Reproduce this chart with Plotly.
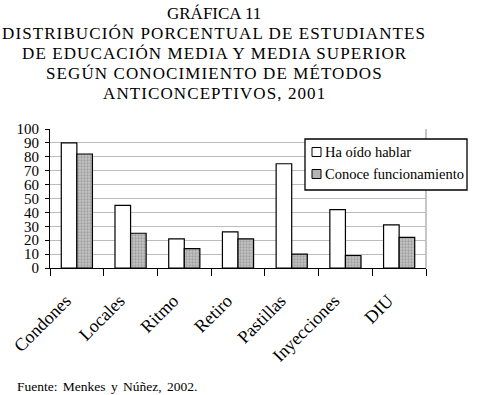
import plotly.graph_objects as go

categories = ["Condones", "Locales", "Ritmo", "Retiro", "Pastillas", "Inyecciones", "DIU"]
ha_oido = [90, 45, 21, 26, 75, 42, 31]
conoce = [82, 25, 14, 21, 10, 9, 22]
y_ticks = list(range(0, 101, 10))
series_names = ["Ha oído hablar", "Conoce funcionamiento"]
title_lines = [
    "GRÁFICA 11",
    "DISTRIBUCIÓN PORCENTUAL DE ESTUDIANTES",
    "DE EDUCACIÓN MEDIA Y MEDIA SUPERIOR",
    "SEGÚN CONOCIMIENTO DE MÉTODOS",
    "ANTICONCEPTIVOS, 2001",
]
source = "Fuente: Menkes y Núñez, 2002."

serif = "Liberation Serif"
GRAY_FILL = "#b4b4b4"

W, H = 478, 395
# plot area in pixels
pl, pr, pt, pb = 50, 426, 129, 268


def px(x):
    return (x - pl) / (pr - pl)


def py(y):
    return (pb - y) / (pb - pt)


fig = go.Figure()
fig.add_trace(go.Bar(
    x=categories, y=ha_oido, name=series_names[0],
    marker=dict(color="white", line=dict(color="black", width=1.2)),
))
fig.add_trace(go.Bar(
    x=categories, y=conoce, name=series_names[1],
    marker=dict(color=GRAY_FILL, line=dict(color="black", width=1.2),
                pattern=dict(shape=".", size=3, solidity=0.45,
                             fgcolor="#7a7a7a", bgcolor="#c4c4c4")),
))

fig.update_layout(
    width=W, height=H,
    margin=dict(l=pl, r=W - pr, t=pt, b=H - pb, autoexpand=False),
    paper_bgcolor="white", plot_bgcolor="white",
    barmode="group", bargap=0.42, bargroupgap=0,
    font=dict(family=serif, color="black"),
    showlegend=False,
)

fig.update_yaxes(
    range=[0, 100], tickvals=y_ticks,
    showgrid=True, gridcolor="#bcbcbc", gridwidth=1,
    showline=True, linecolor="black", linewidth=1.2,
    ticks="outside", ticklen=4, tickcolor="black",
    tickfont=dict(family=serif, size=15, color="black"),
    ticklabelstandoff=3,
    zeroline=False, fixedrange=True, automargin=False,
)
fig.update_xaxes(
    showline=True, linecolor="black", linewidth=1.2,
    ticks="outside", ticklen=7, tickcolor="black", tickson="boundaries",
    tickangle=-45, tickfont=dict(family=serif, size=18, color="black"),
    ticklabelstandoff=14, ticklabelshift=-11, automargin=False,
)
# right border of plot area
fig.add_shape(type="line", xref="paper", yref="paper", x0=1, x1=1, y0=0, y1=1,
              line=dict(color="#8c8c8c", width=1), layer="below")

# manual legend (box extends past the plot area, as in the reference)
fig.add_shape(type="rect", xref="paper", yref="paper",
              x0=px(305), x1=px(467), y0=py(139), y1=py(190),
              fillcolor="white", line=dict(color="black", width=1.3), layer="above")
legend_rows = [(152, "white"), (174, GRAY_FILL)]
for (cy, fill), name in zip(legend_rows, series_names):
    fig.add_shape(type="rect", xref="paper", yref="paper",
                  x0=px(312), x1=px(321), y0=py(cy - 4.5), y1=py(cy + 4.5),
                  fillcolor=fill, line=dict(color="black", width=1), layer="above")
    fig.add_annotation(
        text=name, xref="paper", yref="paper",
        x=px(323), y=py(cy), xanchor="left", yanchor="middle",
        showarrow=False, font=dict(family=serif, size=14.5, color="black"),
    )

for i, line in enumerate(title_lines):
    txt = line if i == 0 else f'<span style="letter-spacing:1.1px">{line}</span>'
    fig.add_annotation(
        text=txt, xref="paper", yref="paper",
        x=px(214), y=py(13 + 20 * i), xanchor="center", yanchor="middle",
        showarrow=False, font=dict(family=serif, size=17, color="black"),
    )

fig.add_annotation(
    text=f'<span style="word-spacing:2px">{source}</span>', xref="paper", yref="paper",
    x=px(15), y=py(386), xanchor="left", yanchor="middle",
    showarrow=False, font=dict(family=serif, size=13.5, color="black"),
)

# remove the default 8px page margin so the figure sits at the window's corner
fig.write_html("out.html", config={"displayModeBar": False},
               post_script="document.body.style.margin='0';")
